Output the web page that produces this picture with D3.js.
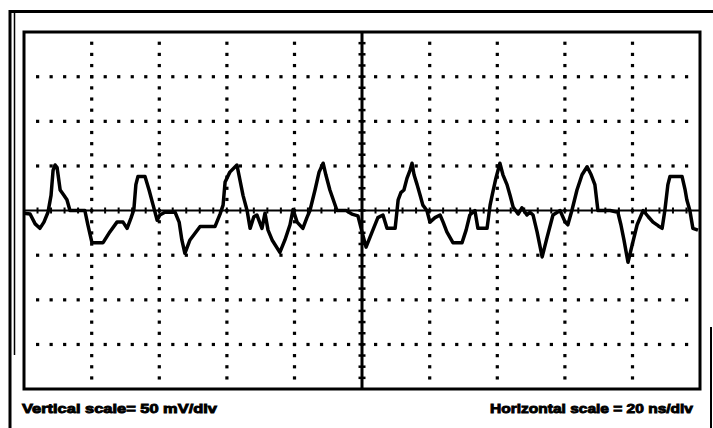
<!DOCTYPE html>
<html>
<head>
<meta charset="utf-8">
<script src="https://cdn.jsdelivr.net/npm/d3@7"></script>
<style>
  body { margin: 0; background: #fff; }
  svg { display: block; }
</style>
</head>
<body>
<svg id="chart"></svg>
<script>
// Scope trace (time in ns, amplitude in mV)
const timeNs = [0, 1.8, 3.3, 4.7, 5.9, 7.1, 8.0, 8.6, 9.2, 9.8, 10.7, 11.8, 12.7, 13.6, 18.0, 18.9, 20.1, 23.4, 25.4, 27.5,
  29.3, 30.5, 31.7, 32.5, 33.1, 33.7, 35.8, 37.0, 38.2, 39.4, 40.2, 41.7, 44.7, 45.9, 46.7, 47.6, 49.1, 52.1, 56.5, 58.0,
  58.9, 59.5, 60.9, 63.0, 64.8, 66.0, 66.9, 68.0, 68.9, 70.4, 71.3, 72.2, 73.4, 75.7, 77.2, 78.7, 79.6, 80.8, 82.5, 83.7,
  84.6, 86.1, 87.3, 88.5, 89.3, 90.5, 92.6, 95.3, 97.0, 98.8, 100.0, 101.2, 103.0, 104.7, 106.2, 107.4, 109.8, 110.7, 111.5, 112.4,
  113.3, 114.2, 114.8, 115.4, 116.3, 117.2, 118.0, 119.2, 120.1, 121.6, 123.1, 124.0, 125.1, 126.9, 129.6, 130.8, 131.9, 133.4, 134.3, 137.0,
  137.9, 138.5, 139.6, 140.8, 141.7, 142.9, 143.8, 144.7, 146.2, 147.3, 148.8, 149.7, 150.6, 151.8, 153.3, 154.7, 156.5, 158.6, 160.1, 160.9,
  162.1, 163.6, 165.1, 166.6, 167.8, 168.9, 169.8, 173.4, 175.7, 176.6, 177.5, 178.7, 179.9, 181.4, 183.2, 184.7, 186.1, 187.6, 188.8, 189.6,
  190.5, 191.1, 194.7, 195.6, 196.1, 197.0, 197.9, 199.4];
const traceMv = [-3, -4, -15, -20, -13, -2, 17, 45, 51, 48, 23, 17, 12, 0, 0, -16, -36, -36, -24, -13,
  -13, -20, -8, 1, 29, 38, 38, 23, 6, -11, -5, -2, -2, -13, -33, -48, -33, -18, -18, -4,
  6, 32, 43, 51, 17, 0, -20, -7, -5, -20, -3, -22, -33, -47, -33, -16, 1, -13, -20, -8,
  0, 23, 43, 53, 40, 23, 0, 0, -4, -6, -24, -41, -24, -8, -5, -20, -20, 12, 20, 23,
  36, 45, 53, 40, 29, 17, 6, 0, -13, -8, -5, -13, -24, -36, -36, -22, -5, 0, -20, -20,
  6, 17, 36, 53, 40, 29, 17, 4, -4, 3, -5, -2, -5, -24, -52, -31, -5, 0, -13, -16,
  0, 23, 40, 49, 40, 29, 0, 0, -2, -16, -33, -58, -39, -16, 0, -7, -13, -17, -20, 0,
  29, 38, 38, 23, 12, 0, -20, -22];

// Graticule: 10 horizontal divisions of 20 ns, 8 vertical of 50 mV
const timeDivs = d3.range(0, 201, 20);
const voltDivs = d3.range(-200, 201, 50);
const vLabel = "Vertical scale= 50 mV/div";
const hLabel = "Horizontal scale = 20 ns/div";

const W = 713, H = 428;
const svg = d3.select("#chart").attr("width", W).attr("height", H);

const x = d3.scaleLinear().domain([0, 200]).range([24, 700]);
const y = d3.scaleLinear().domain([-200, 200]).range([389, 32]);

// outer scan border
svg.append("line").attr("x1", 9).attr("x2", W).attr("y1", 11.5).attr("y2", 11.5)
  .attr("stroke", "#000").attr("stroke-width", 3);
svg.append("line").attr("x1", 10).attr("x2", 10).attr("y1", 10).attr("y2", H)
  .attr("stroke", "#000").attr("stroke-width", 3);
svg.append("line").attr("x1", 14.5).attr("x2", 14.5).attr("y1", 10).attr("y2", 355)
  .attr("stroke", "#000").attr("stroke-width", 1.5);
svg.append("line").attr("x1", 711).attr("x2", 711).attr("y1", 327).attr("y2", H)
  .attr("stroke", "#000").attr("stroke-width", 2);

// dotted grid
const dots = svg.append("g").attr("fill", "#000");
timeDivs.slice(1, -1).filter(t => t !== 100).forEach(t => {
  d3.range(-200 + 12.5, 200, 12.5).forEach(v => {
    dots.append("rect").attr("x", x(t) - 1.5).attr("y", y(v) - 1.5).attr("width", 3.2).attr("height", 3.2);
  });
});
voltDivs.slice(1, -1).filter(v => v !== 0).forEach(v => {
  d3.range(4, 200, 4).forEach(t => {
    dots.append("rect").attr("x", x(t) - 1.5).attr("y", y(v) - 1.5).attr("width", 3.2).attr("height", 3.2);
  });
});

// centre axes with minor ticks
svg.append("line").attr("x1", x(100)).attr("x2", x(100)).attr("y1", y(200)).attr("y2", y(-200))
  .attr("stroke", "#000").attr("stroke-width", 3);
svg.append("g").selectAll("line").data(d3.range(-200 + 12.5, 200, 12.5)).join("line")
  .attr("x1", x(100) - 3.5).attr("x2", x(100) + 3.5)
  .attr("y1", d => y(d)).attr("y2", d => y(d))
  .attr("stroke", "#000").attr("stroke-width", 2.5);
svg.append("line").attr("x1", x(0)).attr("x2", x(200)).attr("y1", y(0)).attr("y2", y(0))
  .attr("stroke", "#000").attr("stroke-width", 2);
svg.append("g").selectAll("line").data(d3.range(4, 200, 4)).join("line")
  .attr("x1", d => x(d)).attr("x2", d => x(d))
  .attr("y1", y(0) - 3).attr("y2", y(0) + 3)
  .attr("stroke", "#000").attr("stroke-width", 2);

// trace
const pts = timeNs.map((t, i) => [t, traceMv[i]]);
svg.append("path")
  .datum(pts)
  .attr("fill", "none")
  .attr("stroke", "#000")
  .attr("stroke-width", 3.5)
  .attr("stroke-linejoin", "round")
  .attr("d", d3.line().x(d => x(d[0])).y(d => y(d[1])));

// inner frame
svg.append("rect").attr("x", x(0)).attr("y", y(200))
  .attr("width", x(200) - x(0)).attr("height", y(-200) - y(200))
  .attr("fill", "none").attr("stroke", "#000").attr("stroke-width", 3);

// scale captions (heavy, like the scanned print)
[[22, 195, vLabel], [490, 203, hLabel]].forEach(([tx, len, s]) => {
  svg.append("text").attr("x", tx).attr("y", 413)
    .attr("font-family", "Liberation Sans, Arial, sans-serif").attr("font-weight", "bold")
    .attr("font-size", 13).attr("textLength", len).attr("lengthAdjust", "spacingAndGlyphs")
    .attr("stroke", "#000").attr("stroke-width", 0.9)
    .text(s);
});
</script>
</body>
</html>
